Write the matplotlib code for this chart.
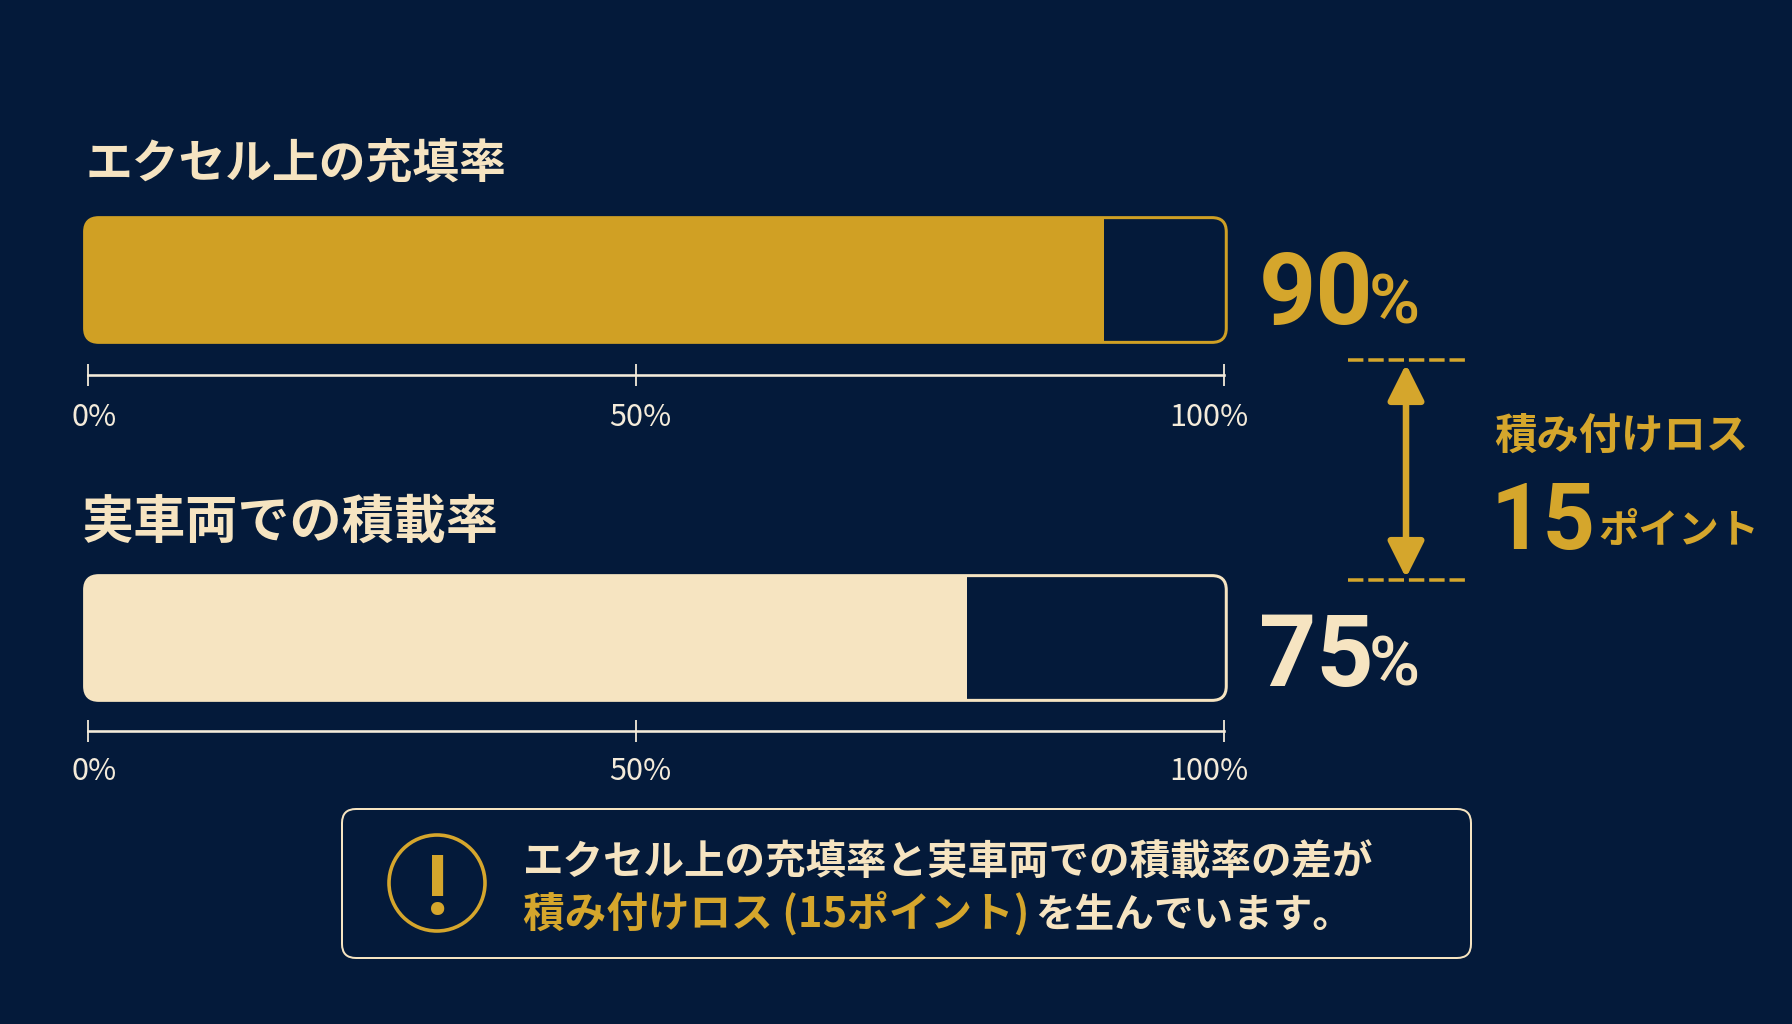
"""Excel fill rate vs real vehicle load rate, with the loading loss between them."""

import matplotlib

matplotlib.use("Agg")

import matplotlib.pyplot as plt
from matplotlib.patches import Circle, FancyArrowPatch, FancyBboxPatch

W, H = 1792, 1024
BG = "#041A3A"
GOLD = "#D0A024"
TEXT_GOLD = "#D5A62C"
CREAM = "#F6E4C1"
WHITE = "#F4EBDA"
JP = ["Noto Sans CJK JP", "DejaVu Sans"]
NUM = ["Roboto", "DejaVu Sans"]

# data
bar_titles = ["エクセル上の充填率", "実車両での積載率"]
bar_labels = ["90", "75"]
bar_lengths = [89.4, 77.4]  # drawn length of the fill on its 0-100 track
tick_positions = [0, 48.2, 100]
tick_labels = ["0%", "50%", "100%"]
tick_label_positions = [0.5, 48.6, 98.7]
gap_title = "積み付けロス"
gap_value = "15"
gap_unit = "ポイント"
note_line1 = "エクセル上の充填率と実車両での積載率の差が"
note_gold = "積み付けロス (15ポイント)"
note_rest = "を生んでいます。"

bar_colors = [GOLD, CREAM]
label_colors = [TEXT_GOLD, CREAM]
bar_tops = [217, 575]
axis_offsets = [32, 30]
label_offsets = [75, 70]
title_baselines = [178, 538]
title_sizes = [33.7, 37.5]
title_x = [86, 82]
label_baselines = [324, 686]
PX = 0.72  # points per pixel at dpi 100


def px_axes(fig, left, top, width, height, **kwargs):
    return fig.add_axes(
        [left / W, 1 - (top + height) / H, width / W, height / H], **kwargs
    )


def draw_bar(fig, top, length, color, axis_offset, label_offset):
    ax = px_axes(fig, 88, top, 1136, 126)
    ax.set_xlim(0, 100)
    ax.set_ylim(0, 1)
    ax.patch.set_visible(False)

    frame = FancyBboxPatch(
        (-0.3, 0.005),
        100.5,
        0.99,
        boxstyle="round,pad=0,rounding_size=1.25",
        mutation_aspect=0.09,
        facecolor="none",
        edgecolor=color,
        linewidth=3 * PX,
        clip_on=False,
        zorder=3,
    )
    ax.add_patch(frame)
    bars = ax.barh([0.5], [length + 0.3], left=-0.3, height=1, color=color, zorder=2)
    bars[0].set_clip_path(frame)
    bars[0].set_clip_box(None)  # the frame starts left of the axes

    for side in ["top", "left", "right"]:
        ax.spines[side].set_visible(False)
    ax.spines["bottom"].set_position(("outward", axis_offset * PX))
    ax.spines["bottom"].set_bounds(0, 100)
    ax.spines["bottom"].set_color(WHITE)
    ax.spines["bottom"].set_linewidth(2.6 * PX)
    ax.set_yticks([])
    ax.set_xticks(tick_positions)
    ax.set_xticklabels([])
    ax.tick_params(axis="x", direction="inout", length=23 * PX, width=1.8 * PX, color=WHITE)

    for pos, label in zip(tick_label_positions, tick_labels):
        ax.annotate(
            label,
            (pos, 0),
            xycoords=ax.get_xaxis_transform(),
            xytext=(0, -label_offset * PX),
            textcoords="offset points",
            ha="center",
            va="center",
            color=WHITE,
            fontsize=22,
            family=JP,
        )


fig = plt.figure(figsize=(W / 100, H / 100), dpi=100, facecolor=BG)

for top, length, color, axis_offset, label_offset in zip(
    bar_tops, bar_lengths, bar_colors, axis_offsets, label_offsets
):
    draw_bar(fig, top, length, color, axis_offset, label_offset)

# overlay in pixel coordinates for the annotations
over = fig.add_axes([0, 0, 1, 1])
over.set_xlim(0, W)
over.set_ylim(H, 0)
over.axis("off")
over.patch.set_visible(False)

for x, base, size, title in zip(title_x, title_baselines, title_sizes, bar_titles):
    over.text(x, base, title, color=CREAM, fontsize=size, fontweight="bold", family=JP, va="baseline")

for base, label, color in zip(label_baselines, bar_labels, label_colors):
    over.text(1259, base, label, color=color, fontsize=72, fontweight="bold", family=NUM, va="baseline")
    over.text(1369, base, "%", color=color, fontsize=50, fontweight="medium", family=NUM, va="baseline")

# gap marker
for y in [360, 580]:
    over.plot([1348, 1469], [y, y], color=TEXT_GOLD, lw=3.5 * PX, ls=(0, (4.4, 1.4)))
over.add_patch(
    FancyArrowPatch(
        (1406, 364),
        (1406, 578),
        arrowstyle="<|-|>,head_length=22,head_width=11",
        mutation_scale=1,
        shrinkA=0,
        shrinkB=0,
        color=TEXT_GOLD,
        lw=6.5 * PX,
    )
)
over.text(1494, 449, gap_title, color=TEXT_GOLD, fontsize=30.5, fontweight="bold", family=JP, va="baseline")
over.text(1490, 549, gap_value, color=TEXT_GOLD, fontsize=66, fontweight="bold", family=NUM, va="baseline")
over.text(1598, 543, gap_unit, color=TEXT_GOLD, fontsize=29, fontweight="bold", family=JP, va="baseline")

# note box
over.add_patch(
    FancyBboxPatch(
        (342, 809),
        1129,
        149,
        boxstyle="round,pad=0,rounding_size=14",
        facecolor="none",
        edgecolor=CREAM,
        linewidth=2 * PX,
    )
)
over.add_patch(Circle((437, 883), 48, facecolor="none", edgecolor=TEXT_GOLD, linewidth=3.6 * PX))
over.text(437, 883, "!", color=TEXT_GOLD, fontsize=60, fontweight="bold", family=["Roboto", "DejaVu Sans"], ha="center", va="center_baseline")
over.text(523, 875, note_line1, color=CREAM, fontsize=29.2, fontweight="bold", family=JP, va="baseline")
over.text(523, 927, note_gold, color=TEXT_GOLD, fontsize=30, fontweight="bold", family=JP, va="baseline")
over.text(1035, 927, note_rest, color=CREAM, fontsize=28.5, fontweight="bold", family=JP, va="baseline")

fig.savefig("out.png", dpi=100, facecolor=BG)
plt.close(fig)
